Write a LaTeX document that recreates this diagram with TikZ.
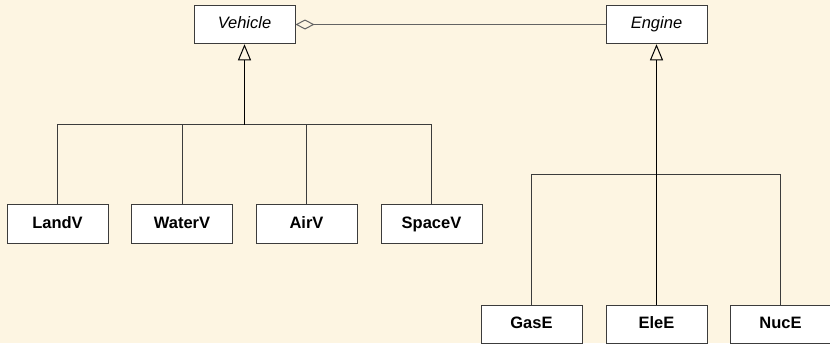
\documentclass[tikz,border=0pt]{standalone}
\usepackage{fontspec}
\setmainfont{Liberation Sans}
\usepackage{xcolor}
\usetikzlibrary{arrows.meta,positioning}
\definecolor{paper}{RGB}{253,245,226}
\definecolor{edge}{RGB}{60,60,60}
\tikzset{
  box/.style={draw=edge, fill=white, line width=1pt, minimum width=101pt,
              minimum height=38.5pt, inner sep=0pt,
              text height=12pt, text depth=3.5pt,
              font=\fontsize{16.5}{20}\selectfont},
  abstr/.style={box, font=\fontsize{16.5}{20}\selectfont\itshape},
  leaf/.style={box, font=\fontsize{16.5}{20}\selectfont\bfseries},
  link/.style={draw=edge, line width=0.9pt},
  isa/.style={-{Triangle[open, length=16pt, width=13pt, line width=1pt]},
              draw=black, line width=1.4pt},
  hasa/.style={{Diamond[open, length=19pt, width=10pt, line width=1pt]}-,
               draw=edge!80, line width=1pt},
}
\begin{document}
\begin{tikzpicture}[x=1pt, y=-1pt]
  \fill[paper] (0,0) rectangle (830,343);
  \useasboundingbox (0,0) rectangle (830,343);
  % top level
  \node[abstr] (veh) at (244.5,24.5) {Vehicle};
  \node[abstr] (eng) at (656.5,24.5) {Engine};
  \draw[hasa] (veh) -- (eng);
  % vehicles
  \node[leaf] (land)  at (57.5,224)  {LandV};
  \node[leaf] (water) at (182,224)   {WaterV};
  \node[leaf] (air)   at (306.5,224) {AirV};
  \node[leaf] (space) at (431.5,224) {SpaceV};
  \coordinate (vj) at (244.5,124.5);
  \foreach \n in {land,water,air,space}
    \draw[link] (\n.north) |- (vj);
  \draw[isa] (vj) -- (veh);
  % engines
  \node[leaf] (gas) at (531.5,324.5) {GasE};
  \node[leaf] (ele) at (656.5,324.5) {EleE};
  \node[leaf] (nuc) at (780.5,324.5) {NucE};
  \coordinate (ej) at (656.5,174.5);
  \draw[link] (gas.north) |- (ej);
  \draw[link] (nuc.north) |- (ej);
  \draw[isa, line width=1pt] (ele) -- (eng);
\end{tikzpicture}
\end{document}
